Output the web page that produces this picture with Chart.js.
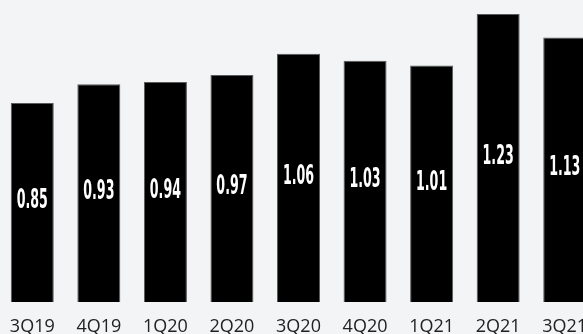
<!DOCTYPE html>
<html>
<head>
<meta charset="utf-8">
<script src="https://cdn.jsdelivr.net/npm/chart.js@4"></script>
<style>
  html, body { margin: 0; padding: 0; background: #f3f4f6; overflow: hidden; }
  #wrap { position: absolute; left: -1px; top: 0; width: 599px; height: 334px; }
</style>
</head>
<body>
<div id="wrap"><canvas id="myChart"></canvas></div>
<script>
'use strict'

const quarters = ['3Q19', '4Q19', '1Q20', '2Q20', '3Q20', '4Q20', '1Q21', '2Q21', '3Q21'];
const values = [0.85, 0.93, 0.94, 0.97, 1.06, 1.03, 1.01, 1.23, 1.13];

// white numbers in the middle of each bar, squeezed sideways
const barLabels = {
  id: 'barLabels',
  afterDatasetsDraw(chart){
    const ctx = chart.ctx;
    const meta = chart.getDatasetMeta(0);
    ctx.save();
    ctx.fillStyle = '#ffffff';
    ctx.font = 'bold 26px "DejaVu Sans Condensed", "DejaVu Sans", sans-serif';
    ctx.textAlign = 'center';
    ctx.textBaseline = 'middle';
    meta.data.forEach(function(bar, i){
      const mid = (bar.y + bar.base) / 2 - 1;
      ctx.save();
      ctx.translate(bar.x, mid);
      ctx.scale(0.54, 1);
      ctx.fillText(values[i].toFixed(2), 0, 0);
      ctx.restore();
    });
    ctx.restore();
  }
};

const ctx = document.getElementById('myChart').getContext('2d');

const myChart = new Chart(ctx, {
  type: 'bar',
  data: {
    labels: quarters,
    datasets: [{
      data: values,
      backgroundColor: '#000000',
      borderColor: '#5a5a5a',
      borderWidth: 1,
      barPercentage: 0.646,
      categoryPercentage: 1
    }]
  },
  options: {
    responsive: true,
    maintainAspectRatio: false,
    animation: false,
    layout: { padding: 0 },
    plugins: {
      legend: { display: false },
      tooltip: { enabled: false }
    },
    scales: {
      x: {
        grid: { display: false, drawTicks: false },
        border: { display: false },
        ticks: {
          color: '#222222',
          padding: 14,
          maxRotation: 0,
          autoSkip: false,
          font: { family: '"Open Sans", sans-serif', size: 18 }
        },
        afterFit(scale){
          scale.height = 32;
          scale.paddingLeft = 0;
          scale.paddingRight = 0;
        }
      },
      y: {
        display: false,
        min: 0,
        max: 1.29
      }
    }
  },
  plugins: [barLabels]
});
</script>
</body>
</html>
